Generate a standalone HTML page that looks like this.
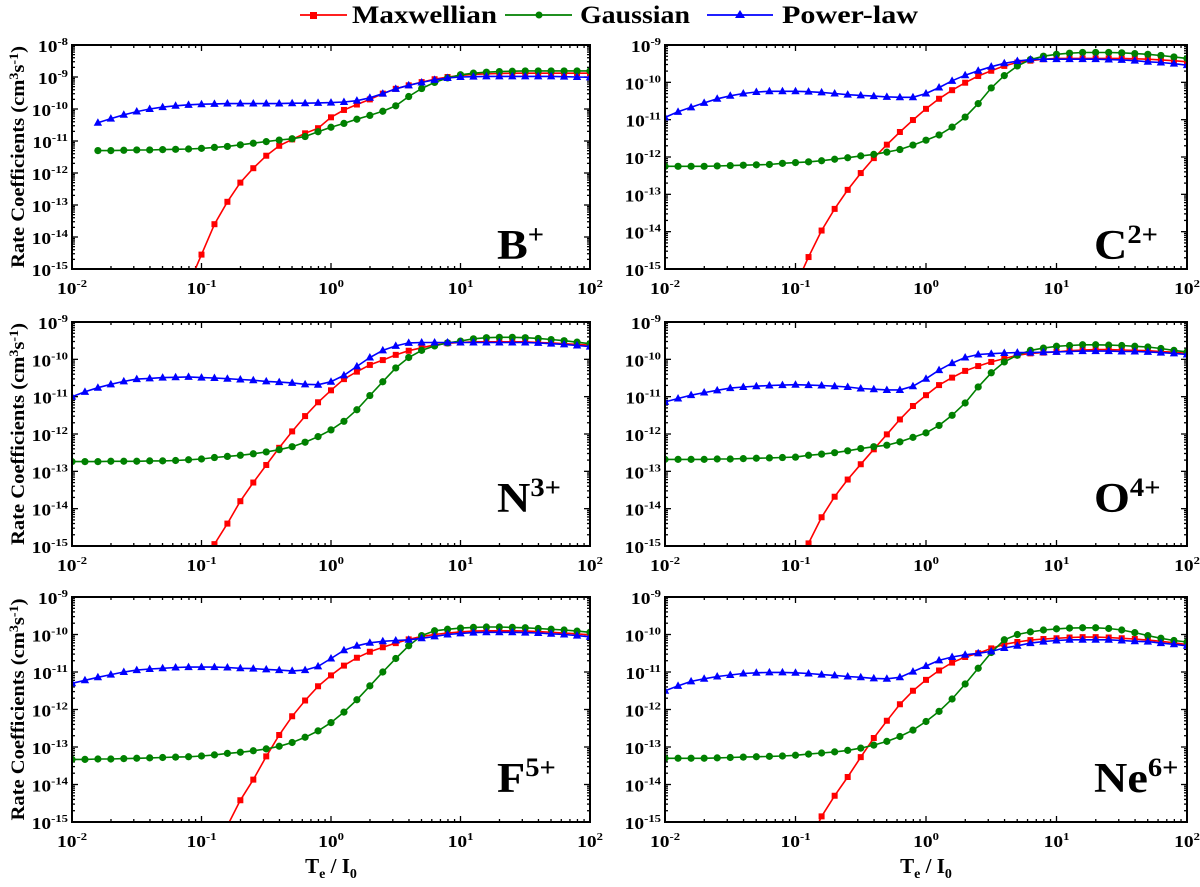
<!DOCTYPE html>
<html><head><meta charset="utf-8"><style>
html,body{margin:0;padding:0;background:#fff;}
svg{display:block;font-family:"Liberation Serif","Times New Roman",serif;font-weight:bold;}
svg text{font-family:"Liberation Serif","Times New Roman",serif;font-weight:bold;}
</style></head><body>
<svg id="fig" width="1200" height="887" viewBox="0 0 1200 887" xmlns="http://www.w3.org/2000/svg">
<g>
  <g>
    <line x1="300" y1="15" x2="347" y2="15" stroke="#ff0000" stroke-width="1.8"/>
    <rect x="310" y="12" width="7" height="7" fill="#ff0000"/>
    <text x="352" y="23" font-size="25" textLength="145" lengthAdjust="spacingAndGlyphs">Maxwellian</text>
  </g>
  <g>
    <line x1="505" y1="15" x2="572" y2="15" stroke="#008000" stroke-width="1.8"/>
    <circle cx="539" cy="15" r="3.5" fill="#008000"/>
    <text x="580" y="23" font-size="25" textLength="110" lengthAdjust="spacingAndGlyphs">Gaussian</text>
  </g>
  <g>
    <line x1="707" y1="15" x2="773" y2="15" stroke="#0000ff" stroke-width="1.8"/>
    <polygon points="740,10 745,18 735,18" fill="#0000ff"/>
    <text x="782" y="23" font-size="25" textLength="136" lengthAdjust="spacingAndGlyphs">Power-law</text>
  </g>
</g>
</svg>
<script>
// x grid: log10(Te/I0) = -2 + 0.1*i, i = 0..40 ; values are log10(rate coefficient)
const xLogStart = -2, xLogStep = 0.1;
const panelNames = ["B", "C", "N", "O", "F", "Ne"];
const panelCharges = ["+", "2+", "3+", "4+", "5+", "6+"];
const yTopDecade = [-8, -9, -9, -9, -9, -9];

const maxwB  = [null,null,null,null,null,null,null,null,null,-15.5,-14.55,-13.6,-12.9,-12.3,-11.85,-11.46,-11.15,-10.95,-10.76,-10.6,-10.26,-10.03,-9.86,-9.7,-9.52,-9.37,-9.26,-9.16,-9.07,-9.0,-8.95,-8.92,-8.9,-8.89,-8.88,-8.88,-8.88,-8.88,-8.88,-8.88,-8.88];
const gaussB = [null,null,-11.3,-11.3,-11.29,-11.28,-11.28,-11.27,-11.26,-11.25,-11.23,-11.2,-11.17,-11.12,-11.07,-11.02,-10.97,-10.93,-10.86,-10.71,-10.57,-10.45,-10.32,-10.2,-10.07,-9.9,-9.61,-9.36,-9.17,-9.03,-8.93,-8.88,-8.85,-8.83,-8.82,-8.81,-8.81,-8.81,-8.81,-8.81,-8.81];
const powB   = [null,null,-10.43,-10.3,-10.18,-10.08,-10.0,-9.94,-9.9,-9.87,-9.85,-9.84,-9.83,-9.83,-9.83,-9.83,-9.83,-9.82,-9.82,-9.81,-9.8,-9.78,-9.74,-9.65,-9.52,-9.37,-9.26,-9.17,-9.09,-9.03,-9.0,-8.99,-8.98,-8.98,-8.98,-8.98,-8.98,-8.98,-8.99,-9.0,-9.01];

const maxwC  = [null,null,null,null,null,null,null,null,null,null,-15.45,-14.68,-13.97,-13.39,-12.88,-12.43,-12.03,-11.67,-11.33,-11.01,-10.71,-10.44,-10.21,-10.01,-9.83,-9.69,-9.56,-9.47,-9.42,-9.38,-9.36,-9.36,-9.36,-9.36,-9.36,-9.36,-9.37,-9.38,-9.4,-9.42,-9.45];
const gaussC = [-12.25,-12.25,-12.25,-12.25,-12.24,-12.23,-12.22,-12.21,-12.2,-12.17,-12.15,-12.13,-12.1,-12.06,-12.02,-11.97,-11.93,-11.87,-11.8,-11.68,-11.55,-11.41,-11.2,-10.93,-10.57,-10.15,-9.82,-9.56,-9.39,-9.3,-9.25,-9.22,-9.2,-9.2,-9.2,-9.21,-9.23,-9.25,-9.28,-9.32,-9.36];
const powC   = [-10.94,-10.79,-10.67,-10.55,-10.44,-10.36,-10.3,-10.26,-10.24,-10.24,-10.24,-10.25,-10.27,-10.3,-10.33,-10.35,-10.37,-10.39,-10.4,-10.4,-10.3,-10.14,-9.96,-9.81,-9.69,-9.58,-9.49,-9.43,-9.39,-9.38,-9.38,-9.38,-9.38,-9.38,-9.39,-9.4,-9.42,-9.45,-9.47,-9.5,-9.54];

const maxwN  = [null,null,null,null,null,null,null,null,null,null,-15.7,-14.95,-14.4,-13.8,-13.3,-12.83,-12.37,-11.93,-11.52,-11.15,-10.83,-10.53,-10.33,-10.15,-10.02,-9.88,-9.77,-9.69,-9.61,-9.57,-9.55,-9.53,-9.53,-9.53,-9.53,-9.53,-9.55,-9.56,-9.58,-9.6,-9.62];
const gaussN = [-12.74,-12.74,-12.74,-12.73,-12.73,-12.73,-12.72,-12.72,-12.71,-12.69,-12.67,-12.63,-12.6,-12.57,-12.53,-12.48,-12.42,-12.34,-12.22,-12.07,-11.89,-11.66,-11.35,-10.97,-10.6,-10.23,-9.95,-9.76,-9.64,-9.56,-9.51,-9.45,-9.42,-9.41,-9.41,-9.42,-9.44,-9.47,-9.5,-9.54,-9.58];
const powN   = [-11.0,-10.87,-10.76,-10.67,-10.59,-10.53,-10.51,-10.49,-10.48,-10.47,-10.49,-10.5,-10.52,-10.54,-10.56,-10.59,-10.61,-10.63,-10.67,-10.68,-10.6,-10.43,-10.19,-9.95,-9.76,-9.64,-9.56,-9.55,-9.55,-9.55,-9.55,-9.55,-9.55,-9.55,-9.55,-9.55,-9.56,-9.58,-9.6,-9.63,-9.66];

const maxwO  = [null,null,null,null,null,null,null,null,null,null,-15.6,-14.93,-14.23,-13.68,-13.22,-12.81,-12.41,-12.01,-11.61,-11.25,-10.96,-10.69,-10.49,-10.31,-10.18,-10.07,-9.98,-9.89,-9.84,-9.82,-9.8,-9.77,-9.75,-9.74,-9.74,-9.75,-9.76,-9.77,-9.79,-9.81,-9.84];
const gaussO = [-12.68,-12.68,-12.68,-12.68,-12.67,-12.67,-12.66,-12.65,-12.64,-12.63,-12.62,-12.57,-12.54,-12.5,-12.45,-12.39,-12.34,-12.3,-12.21,-12.09,-11.97,-11.77,-11.5,-11.17,-10.74,-10.36,-10.07,-9.89,-9.76,-9.7,-9.65,-9.63,-9.61,-9.61,-9.62,-9.63,-9.65,-9.67,-9.71,-9.76,-9.8];
const powO   = [-11.14,-11.05,-10.96,-10.89,-10.83,-10.77,-10.74,-10.72,-10.7,-10.69,-10.68,-10.69,-10.7,-10.72,-10.74,-10.78,-10.8,-10.82,-10.82,-10.72,-10.52,-10.29,-10.1,-9.95,-9.87,-9.85,-9.83,-9.82,-9.82,-9.81,-9.8,-9.79,-9.78,-9.78,-9.78,-9.79,-9.79,-9.8,-9.82,-9.84,-9.87];

const maxwF  = [null,null,null,null,null,null,null,null,null,null,null,-15.8,-15.1,-14.42,-13.87,-13.25,-12.68,-12.18,-11.76,-11.38,-11.09,-10.83,-10.62,-10.46,-10.34,-10.23,-10.13,-10.05,-10.0,-9.96,-9.93,-9.91,-9.9,-9.9,-9.9,-9.91,-9.92,-9.94,-9.96,-9.98,-10.01];
const gaussF = [-13.33,-13.33,-13.32,-13.32,-13.31,-13.3,-13.29,-13.28,-13.27,-13.26,-13.24,-13.21,-13.17,-13.14,-13.1,-13.05,-12.98,-12.88,-12.74,-12.57,-12.35,-12.07,-11.74,-11.37,-11.0,-10.64,-10.3,-10.03,-9.9,-9.86,-9.83,-9.81,-9.8,-9.8,-9.81,-9.82,-9.84,-9.86,-9.88,-9.91,-9.94];
const powF   = [-11.3,-11.22,-11.14,-11.07,-11.0,-10.95,-10.92,-10.9,-10.88,-10.87,-10.87,-10.87,-10.88,-10.9,-10.91,-10.93,-10.95,-10.97,-10.95,-10.85,-10.64,-10.42,-10.3,-10.22,-10.18,-10.16,-10.14,-10.1,-10.05,-10.0,-9.97,-9.95,-9.94,-9.94,-9.94,-9.95,-9.96,-9.98,-10.0,-10.03,-10.06];

const maxwNe  = [null,null,null,null,null,null,null,null,null,null,null,-15.6,-14.85,-14.3,-13.8,-13.27,-12.76,-12.3,-11.86,-11.5,-11.21,-10.96,-10.75,-10.6,-10.5,-10.37,-10.26,-10.2,-10.15,-10.12,-10.1,-10.08,-10.07,-10.07,-10.08,-10.1,-10.12,-10.15,-10.18,-10.22,-10.27];
const gaussNe = [-13.3,-13.3,-13.3,-13.3,-13.29,-13.28,-13.27,-13.26,-13.25,-13.24,-13.22,-13.19,-13.16,-13.13,-13.09,-13.03,-12.95,-12.85,-12.72,-12.55,-12.32,-12.05,-11.72,-11.32,-10.9,-10.48,-10.14,-10.0,-9.93,-9.88,-9.85,-9.83,-9.82,-9.82,-9.84,-9.88,-9.95,-10.03,-10.1,-10.16,-10.2];
const powNe   = [-11.5,-11.37,-11.25,-11.18,-11.12,-11.08,-11.04,-11.02,-11.01,-11.01,-11.02,-11.04,-11.07,-11.09,-11.12,-11.14,-11.17,-11.18,-11.14,-10.99,-10.84,-10.69,-10.6,-10.54,-10.5,-10.45,-10.36,-10.3,-10.23,-10.19,-10.16,-10.14,-10.14,-10.14,-10.14,-10.16,-10.18,-10.19,-10.23,-10.26,-10.3];

const maxwAll  = [maxwB, maxwC, maxwN, maxwO, maxwF, maxwNe];
const gaussAll = [gaussB, gaussC, gaussN, gaussO, gaussF, gaussNe];
const powAll   = [powB, powC, powN, powO, powF, powNe];

const NS = "http://www.w3.org/2000/svg";
const svg = document.getElementById("fig");
function mk(tag, attrs, parent) {
  const e = document.createElementNS(NS, tag);
  for (const k in attrs) e.setAttribute(k, attrs[k]);
  if (parent) parent.appendChild(e);
  return e;
}
function powLabel(parent, x, y, exp, anchor, sx) {
  const g = mk("g", {transform: "translate(" + x + "," + y + ") scale(" + sx + ",1)"}, parent);
  
  
  const t = mk("text", {x: 0, y: 0, "font-size": 17, "text-anchor": anchor}, g);
  const a = mk("tspan", {}, t); a.textContent = "10";
  const b = mk("tspan", {dy: -7, "font-size": 11}, t); b.textContent = String(exp);
}

const cols = [{x0: 72, x1: 590}, {x0: 665, x1: 1187}];
const rows = [{y0: 45, y1: 269}, {y0: 322, y1: 546}, {y0: 597, y1: 822}];
const labelOffset = [10, 34, 30];
const colors = {maxw: "#ff0000", gauss: "#008000", pow: "#0000ff"};

for (let p = 0; p < 6; p++) {
  const ri = Math.floor(p / 2);
  const c = cols[p % 2], r = rows[ri];
  const yTop = yTopDecade[p], yBot = -15;
  const xs = v => c.x0 + (v + 2) / 4 * (c.x1 - c.x0);
  const ys = v => r.y0 + (yTop - v) / (yTop - yBot) * (r.y1 - r.y0);
  const g = mk("g", {}, svg);
  
  
  const clipId = "clip" + p;
  const cp = mk("clipPath", {id: clipId}, g);
  mk("rect", {x: c.x0, y: r.y0, width: c.x1 - c.x0, height: r.y1 - r.y0}, cp);

  const tk = mk("g", {stroke: "#000", "stroke-width": 1.3}, g);
  
  
  for (let d = -2; d <= 2; d++) {
    for (let m = 1; m <= 9; m++) {
      if (d === 2 && m > 1) break;
      const X = xs(d + Math.log10(m)), L = m === 1 ? 6 : 3;
      mk("line", {x1: X, x2: X, y1: r.y1, y2: r.y1 - L}, tk);
      mk("line", {x1: X, x2: X, y1: r.y0, y2: r.y0 + L}, tk);
    }
  }
  for (let d = yBot; d <= yTop; d++) {
    for (let m = 1; m <= 9; m++) {
      if (d === yTop && m > 1) break;
      const Y = ys(d + Math.log10(m)), L = m === 1 ? 6 : 3;
      mk("line", {x1: c.x0, x2: c.x0 + L, y1: Y, y2: Y}, tk);
      mk("line", {x1: c.x1, x2: c.x1 - L, y1: Y, y2: Y}, tk);
    }
  }
  for (let d = -2; d <= 2; d++) powLabel(g, xs(d), r.y1 + 25, d, "middle", 1.15);
  for (let d = yBot; d <= yTop; d++) powLabel(g, c.x0 - 4, ys(d) + 7, d, "end", 1.15);

  const series = [["maxw", maxwAll[p]], ["gauss", gaussAll[p]], ["pow", powAll[p]]];
  const sg = mk("g", {"clip-path": "url(#" + clipId + ")"}, g);
  for (const [key, arr] of series) {
    const col = colors[key];
    const lg = mk("g", {}, sg);
    
    
    let d = "";
    arr.forEach((v, i) => {
      if (v === null) return;
      const X = xs(xLogStart + i * xLogStep), Y = ys(v);
      d += (d ? "L" : "M") + X.toFixed(1) + "," + Y.toFixed(1);
    });
    mk("path", {d: d, fill: "none", stroke: col, "stroke-width": 1.6}, lg);
    arr.forEach((v, i) => {
      if (v === null) return;
      const X = xs(xLogStart + i * xLogStep), Y = ys(v);
      let m;
      if (key === "maxw") m = mk("rect", {x: X - 3, y: Y - 3, width: 6, height: 6, fill: col}, lg);
      else if (key === "gauss") m = mk("circle", {cx: X, cy: Y, r: 3.6, fill: col}, lg);
      else m = mk("polygon", {points: X + "," + (Y - 4.5) + " " + (X + 4.2) + "," + (Y + 3) + " " + (X - 4.2) + "," + (Y + 3), fill: col}, lg);
      
      
    });
  }
  const fr = mk("rect", {x: c.x0, y: r.y0, width: c.x1 - c.x0, height: r.y1 - r.y0, fill: "none", stroke: "#000", "stroke-width": 2}, g);
  
  

  const lx = c.x1 - 93, ly = r.y1 - labelOffset[ri];
  const lgp = mk("g", {transform: "translate(" + lx + "," + ly + ") scale(1.1,1)"}, g);
  
  
  const lt = mk("text", {x: 0, y: 0, "font-size": 42}, lgp);
  const t1 = mk("tspan", {}, lt); t1.textContent = panelNames[p];
  const t2 = mk("tspan", {dy: -16, "font-size": 26}, lt); t2.textContent = panelCharges[p];

  if (p % 2 === 0) {
    const cy = (r.y0 + r.y1) / 2;
    const yt = mk("text", {x: 0, y: 0, "font-size": 19, "text-anchor": "middle", transform: "translate(24," + cy + ") rotate(-90)", textLength: 222, lengthAdjust: "spacingAndGlyphs"}, g);
    
    
    const a = mk("tspan", {}, yt); a.textContent = "Rate Coefficients  (cm";
    const b = mk("tspan", {dy: -6, "font-size": 13}, yt); b.textContent = "3";
    const c2 = mk("tspan", {dy: 6}, yt); c2.textContent = "s";
    const d2 = mk("tspan", {dy: -6, "font-size": 13}, yt); d2.textContent = "-1";
    const e2 = mk("tspan", {dy: 6}, yt); e2.textContent = ")";
  }
  if (p >= 4) {
    const xt = mk("text", {x: (c.x0 + c.x1) / 2, y: 873, "font-size": 21, "text-anchor": "middle"}, g);
    
    
    const a = mk("tspan", {}, xt); a.textContent = "T";
    const b = mk("tspan", {dy: 5, "font-size": 14}, xt); b.textContent = "e";
    const c2 = mk("tspan", {dy: -5}, xt); c2.textContent = " / I";
    const d2 = mk("tspan", {dy: 5, "font-size": 14}, xt); d2.textContent = "0";
  }
}
</script>
</body></html>
